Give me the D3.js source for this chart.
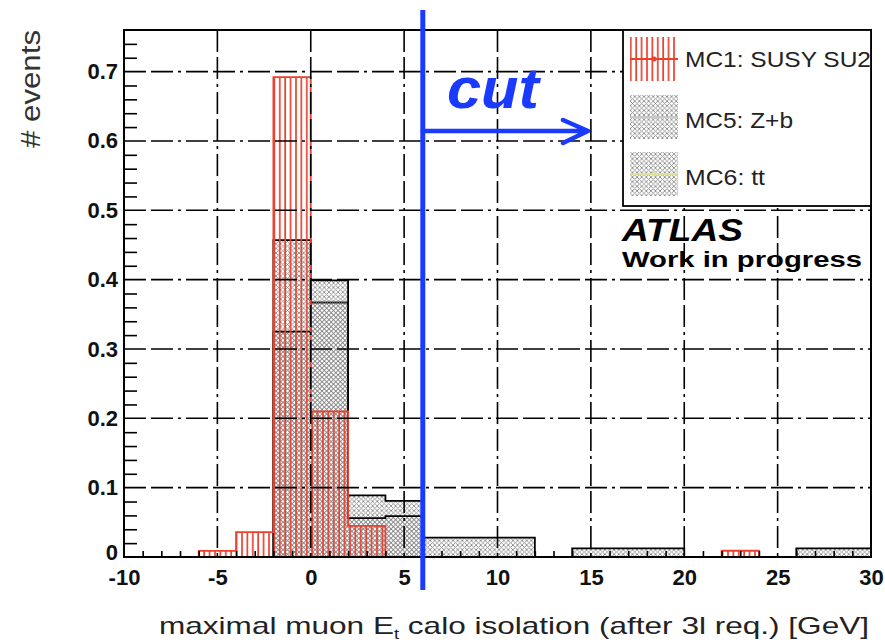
<!DOCTYPE html>
<html><head><meta charset="utf-8">
<script src="https://cdn.jsdelivr.net/npm/d3@7"></script>
<style>body{margin:0;background:#fff}svg{display:block}</style>
</head><body>
<svg id="c" width="885" height="642"></svg>
<script>
// ---- data ----
const binLow = d3.range(-10, 30, 2);          // 20 bins of width 2 GeV
const binWidth = 2;
const mc1 = [0,0,0.0087,0.036,0.692,0.21,0.045,0,0,0,0,0,0,0,0,0,0.009,0,0,0];
const mc5 = [0,0,0,0,0.457,0.367,0.089,0.081,0,0,0,0,0,0,0,0,0,0,0,0];
const mc6 = [0,0,0,0,0.325,0.399,0.056,0.059,0.028,0.028,0.028,0,0.0125,0.0125,0.0125,0,0,0,0.0125,0.0125];
const xTicks = [-10,-5,0,5,10,15,20,25,30];
const xTickLabels = ["-10","-5","0","5","10","15","20","25","30"];
const yTicks = [0,0.1,0.2,0.3,0.4,0.5,0.6,0.7];
const yTickLabels = ["0","0.1","0.2","0.3","0.4","0.5","0.6","0.7"];
const legendLabels = ["MC1: SUSY SU2","MC5: Z+b","MC6: tt"];
const cutValue = 6;
const xDomain = [-10,30], yDomain = [0,0.76];

// ---- layout ----
const L=124, R=871, T=30, B=557;
const svg = d3.select("#c");
const x = d3.scaleLinear(xDomain,[L,R]);
const y = d3.scaleLinear(yDomain,[B,T]);
const FONT = "'Liberation Sans', Arial, Helvetica, sans-serif";
const RED = "#e8412f", BLUE = "#1a3bff";

// patterns
const defs = svg.append("defs");
const rp = defs.append("pattern").attr("id","redPat").attr("patternUnits","userSpaceOnUse")
  .attr("width",5.4).attr("height",10).attr("x",x(-2));
rp.append("line").attr("x1",1).attr("x2",1).attr("y1",0).attr("y2",10).attr("stroke",RED).attr("stroke-width",1.7);
function hatch(id, col, off){
  const s = 4.6;
  const p = defs.append("pattern").attr("id",id).attr("patternUnits","userSpaceOnUse")
    .attr("width",s).attr("height",s).attr("x",off).attr("y",off);
  p.append("path").attr("d",`M0,0L${s},${s}M${s},0L0,${s}M-1,${s-1}L1,${s+1}M${s-1},-1L${s+1},1M-1,1L1,-1M${s-1},${s+1}L${s+1},${s-1}`)
    .attr("stroke",col).attr("stroke-width",0.9).attr("fill","none");
}
hatch("grayPat5","#8c8c8c",0);
hatch("grayPat6","#8c8c8c",2.3);

const clip = defs.append("clipPath").attr("id","frameClip");
clip.append("rect").attr("x",L).attr("y",T).attr("width",R-L).attr("height",B-T);

const plot = svg.append("g").attr("clip-path","url(#frameClip)");

function stepPoints(vals){
  const pts=[[x(xDomain[0]),y(0)]];
  vals.forEach((v,i)=>{pts.push([x(binLow[i]),y(v)]);pts.push([x(binLow[i]+binWidth),y(v)]);});
  pts.push([x(xDomain[1]),y(0)]);
  return pts;
}
function drawHist(vals, pat, stroke){
  const g = plot.append("g");
  g.selectAll("rect").data(vals.map((v,i)=>({v,lo:binLow[i]})).filter(d=>d.v>0)).join("rect")
    .attr("x",d=>x(d.lo)).attr("width",d=>x(d.lo+binWidth)-x(d.lo))
    .attr("y",d=>y(d.v)).attr("height",d=>y(0)-y(d.v))
    .attr("fill",`url(#${pat})`);
  g.append("path").attr("d",d3.line()(stepPoints(vals))).attr("fill","none")
    .attr("stroke",stroke).attr("stroke-width",1.8);
  return g;
}
drawHist(mc5,"grayPat5","#000");
drawHist(mc6,"grayPat6","#000");
drawHist(mc1,"redPat",RED);

// grid
const dash = "22,5,22,5,3,5";
plot.append("g").selectAll("line").data(xTicks.slice(1,-1)).join("line")
  .attr("x1",d=>x(d)).attr("x2",d=>x(d)).attr("y1",T).attr("y2",B)
  .attr("stroke","#000").attr("stroke-width",1.6).attr("stroke-dasharray",dash);
plot.append("g").selectAll("line").data(yTicks.slice(1)).join("line")
  .attr("x1",L).attr("x2",R).attr("y1",d=>y(d)).attr("y2",d=>y(d))
  .attr("stroke","#000").attr("stroke-width",1.6).attr("stroke-dasharray",dash);

// minor ticks via axes
const xMinor = d3.range(-9,30).filter(v=>v%5!==0);
const yMinor = d3.range(1,38).map(i=>+(i*0.02).toFixed(2)).filter(v=>Math.abs(v*10-Math.round(v*10))>1e-6);
const gxm = svg.append("g").attr("transform",`translate(0,${B})`)
  .call(d3.axisTop(x).tickValues(xMinor).tickSize(6).tickFormat(""));
gxm.select(".domain").remove();
gxm.selectAll("line").attr("stroke","#000").attr("stroke-width",1.6);
const gym = svg.append("g").attr("transform",`translate(${L},0)`)
  .call(d3.axisRight(y).tickValues(yMinor).tickSize(13).tickFormat(""));
gym.select(".domain").remove();
gym.selectAll("line").attr("stroke","#000").attr("stroke-width",1.6);

// tick labels via axes
const gx = svg.append("g").attr("transform",`translate(0,${B})`)
  .call(d3.axisBottom(x).tickValues(xTicks).tickSize(0).tickPadding(12).tickFormat((d,i)=>xTickLabels[i]));
gx.select(".domain").remove();
gx.selectAll("text").attr("font-family",FONT).attr("font-size",22).attr("font-weight","bold").attr("fill","#111");
const gy = svg.append("g").attr("transform",`translate(${L},0)`)
  .call(d3.axisLeft(y).tickValues(yTicks).tickSize(0).tickPadding(6).tickFormat((d,i)=>yTickLabels[i]));
gy.select(".domain").remove();
gy.selectAll("text").attr("font-family",FONT).attr("font-size",22).attr("font-weight","bold").attr("fill","#111");
gy.selectAll(".tick").filter(d=>d===0).select("text").attr("dy","0.1em");

// frame
svg.append("rect").attr("x",L).attr("y",T).attr("width",R-L).attr("height",B-T)
  .attr("fill","none").attr("stroke","#000").attr("stroke-width",2);

// legend
const lg = svg.append("g");
lg.append("rect").attr("x",623).attr("y",30).attr("width",248).attr("height",176)
  .attr("fill","#fff").attr("stroke","#000").attr("stroke-width",1.8);
const legRows = [
  {pat:"redPat", line:RED, cy:59, tb:67, tl:186},
  {pat:"grayPat5", line:"#c8c8c8", cy:117, tb:128, tl:108},
  {pat:"grayPat6", line:"#e0e09a", cy:174, tb:185, tl:80}
];
legRows.forEach((r,i)=>{
  lg.append("rect").attr("x",630).attr("y",r.cy-22).attr("width",48).attr("height",44).attr("fill",`url(#${r.pat})`);
  lg.append("line").attr("x1",630).attr("x2",678).attr("y1",r.cy).attr("y2",r.cy).attr("stroke",r.line).attr("stroke-width",2);
  lg.append("circle").attr("cx",654).attr("cy",r.cy).attr("r",2.5).attr("fill",r.line);
  lg.append("text").attr("x",685).attr("y",r.tb).text(legendLabels[i])
    .attr("font-family",FONT).attr("font-size",22).attr("fill","#222")
    .attr("textLength",r.tl).attr("lengthAdjust","spacingAndGlyphs");
});

// ATLAS label
svg.append("text").attr("x",622).attr("y",241).text("ATLAS")
  .attr("font-family",FONT).attr("font-size",31).attr("font-weight","bold").attr("font-style","italic")
  .attr("textLength",121).attr("lengthAdjust","spacingAndGlyphs");
svg.append("text").attr("x",622).attr("y",267).text("Work in progress")
  .attr("font-family",FONT).attr("font-size",22).attr("font-weight","bold")
  .attr("textLength",240).attr("lengthAdjust","spacingAndGlyphs");

// cut line + arrow
const xc = x(cutValue);
svg.append("line").attr("x1",xc).attr("x2",xc).attr("y1",10).attr("y2",590)
  .attr("stroke",BLUE).attr("stroke-width",5);
svg.append("path").attr("d",`M${xc},131H588M563,120L588,131L563,143`)
  .attr("fill","none").attr("stroke",BLUE).attr("stroke-width",4.5).attr("stroke-linecap","round").attr("stroke-linejoin","round");
svg.append("text").attr("x",447).attr("y",108).text("cut")
  .attr("font-family",FONT).attr("font-size",58).attr("font-weight","bold").attr("font-style","italic")
  .attr("fill",BLUE).attr("textLength",92).attr("lengthAdjust","spacingAndGlyphs");

// axis titles
svg.append("text").attr("transform","translate(40,89) rotate(-90)").attr("text-anchor","middle")
  .text("# events").attr("font-family",FONT).attr("font-size",27).attr("fill","#333")
  .attr("textLength",118).attr("lengthAdjust","spacingAndGlyphs");
const xl = svg.append("text").attr("x",514).attr("y",634).attr("text-anchor","middle")
  .attr("font-family",FONT).attr("font-size",24).attr("fill","#222");
xl.append("tspan").text("maximal muon E");
xl.append("tspan").text("t").attr("font-size",14).attr("dy",5);
xl.append("tspan").text(" calo isolation (after 3l req.) [GeV]").attr("dy",-5);
xl.attr("textLength",710).attr("lengthAdjust","spacingAndGlyphs");
</script>
</body></html>
